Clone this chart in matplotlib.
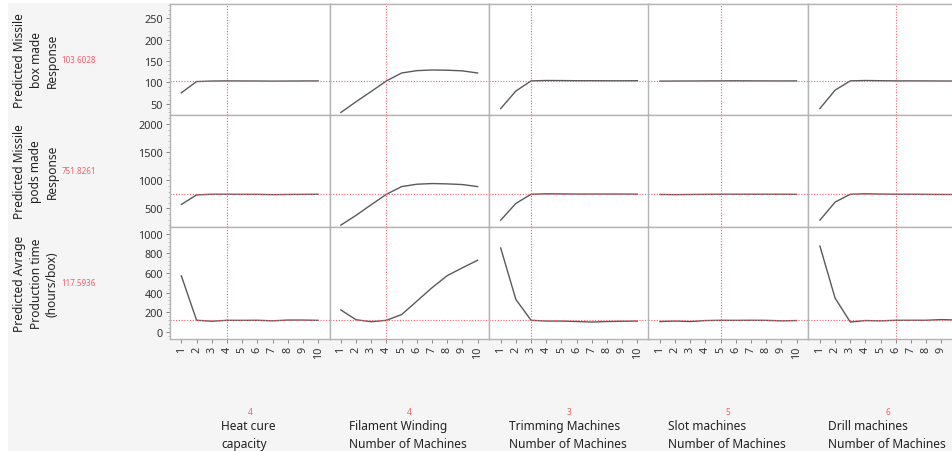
import matplotlib
matplotlib.use("Agg")
import matplotlib.pyplot as plt
from matplotlib.patches import Rectangle
from matplotlib.ticker import AutoMinorLocator, FixedLocator

plt.rcParams['font.family'] = ['Noto Sans', 'DejaVu Sans']

levels = [1, 2, 3, 4, 5, 6, 7, 8, 9, 10]

factor_names = ["Heat cure\ncapacity",
                "Filament Winding\nNumber of Machines",
                "Trimming Machines\nNumber of Machines",
                "Slot machines\nNumber of Machines",
                "Drill machines\nNumber of Machines"]
factor_current = [4, 4, 3, 5, 6]

response_names = ["Predicted Missile\nbox made\nResponse",
                  "Predicted Missile\npods made\nResponse",
                  "Predicted Avrage\nProduction time\n(hours/box)"]
response_current = [103.6028, 751.8261, 117.5936]
response_labels = ["103.6028", "751.8261", "117.5936"]

# one list per factor (heat, filament, trimming, slot, drill)
box_made = [
    [76, 102, 103.2, 103.6, 103.4, 103.3, 103, 103.2, 103.4, 103.5],
    [30, 55, 79, 103.6, 122, 127.5, 129, 128.5, 127, 122],
    [39, 80, 103.6, 104.5, 104.3, 104, 104, 103.8, 103.8, 104],
    [103, 103.2, 103.3, 103.5, 103.6, 103.8, 103.6, 103.5, 103.4, 103.5],
    [39, 82, 103.6, 104.5, 104, 103.6, 103.6, 103.5, 103.3, 103.2],
]
pods_made = [
    [571, 740, 752, 752, 750, 750, 745, 748, 750, 752],
    [204, 377, 567, 751.8, 888, 930, 942, 936, 924, 888],
    [291, 589, 751.8, 760, 758, 755, 755, 755, 755, 753],
    [748, 745, 748, 750, 751.8, 752, 752, 752, 752, 750],
    [291, 612, 751.8, 760, 755, 752, 752, 750, 748, 748],
]
prod_time = [
    [570, 118, 108, 117.6, 117, 118, 112, 120, 120, 117],
    [223, 123, 103, 117.6, 176, 313, 450, 573, 653, 730],
    [855, 330, 117.6, 110, 110, 105, 100, 105, 108, 110],
    [105, 110, 105, 115, 117.6, 117, 118, 117, 112, 115],
    [875, 344, 100, 115, 112, 117.6, 118, 118, 125, 120],
]
responses = [box_made, pods_made, prod_time]

y_limits = [(24, 283), (170, 2160), (-68, 1069)]
y_ticks = [[50, 100, 150, 200, 250], [500, 1000, 1500, 2000],
           [0, 200, 400, 600, 800, 1000]]

W, H = 953, 452
fig = plt.figure(figsize=(W / 100, H / 100), dpi=100)
fig.patch.set_facecolor("#f5f5f5")
fig.patches.append(Rectangle((0, 1 - 4 / H), 1, 4 / H, transform=fig.transFigure,
                             facecolor="white", edgecolor="none", zorder=0))
fig.patches.append(Rectangle((0, 0), 8 / W, 1, transform=fig.transFigure,
                             facecolor="white", edgecolor="none", zorder=0))

col_left = [170, 329.5, 489.3, 648.5, 808.5]
col_w = 159.5
row_top = [5, 116, 228]
row_h = [111, 112, 111.5]

red = "#f2606a"
line_col = "#5a5a5a"
frame = "#b4b4b4"

for r in range(3):
    for c in range(5):
        ax = fig.add_axes([col_left[c] / W, 1 - (row_top[r] + row_h[r]) / H,
                           col_w / W, row_h[r] / H])
        ax.set_facecolor("white")
        ax.plot(levels, responses[r][c], color=line_col, lw=1.0)
        ax.axhline(response_current[r], color=red, lw=0.8, ls=(0, (1, 1.5)))
        ax.axvline(factor_current[c], color=red, lw=0.8, ls=(0, (1, 1.5)))
        ax.set_xlim(0.25, 10.75)
        ax.set_ylim(*y_limits[r])
        for s in ax.spines.values():
            s.set_color(frame)
            s.set_linewidth(1.0)
        if c == 0:
            ax.yaxis.set_major_locator(FixedLocator(y_ticks[r]))
            ax.yaxis.set_minor_locator(AutoMinorLocator(5))
            ax.tick_params(axis="y", which="major", length=3, width=0.7,
                           color="#888888", labelsize=7.8, labelcolor="#333333", pad=2)
            ax.tick_params(axis="y", which="minor", length=1.5, width=0.5,
                           color="#aaaaaa")
        else:
            ax.set_yticks([])
        if r == 2:
            ax.set_xticks(levels)
            labels = [str(v) for v in levels]
            if c == 4:
                # last panel runs past the right edge, its "10" is not visible
                labels[-1] = ""
            ax.set_xticklabels(labels, rotation=90)
            ax.tick_params(axis="x", length=3, width=0.7, color="#888888",
                           labelsize=7.8, labelcolor="#333333", pad=2)
        else:
            ax.set_xticks([])

# response labels on the left
for r in range(3):
    yc = 1 - (row_top[r] + row_h[r] / 2) / H
    fig.text(36 / W, yc, response_names[r], rotation=90, ha="center", va="center",
             multialignment="center", fontsize=8.6, color="#222222", linespacing=1.3)
    fig.text(79 / W, yc, response_labels[r], ha="center", va="center",
             fontsize=5.8, color=red)

# factor labels at the bottom
for c in range(5):
    xc = (col_left[c] + col_w / 2) / W
    fig.text(xc, 1 - 412.5 / H, str(factor_current[c]), ha="center", va="center",
             fontsize=6, color=red)
    fig.text(xc - 1 / W, 1 - 420.5 / H, factor_names[c], ha="center", va="top",
             multialignment="left", fontsize=8.6, color="#222222", linespacing=1.45)

fig.savefig("out.png", dpi=100, facecolor=fig.get_facecolor())
